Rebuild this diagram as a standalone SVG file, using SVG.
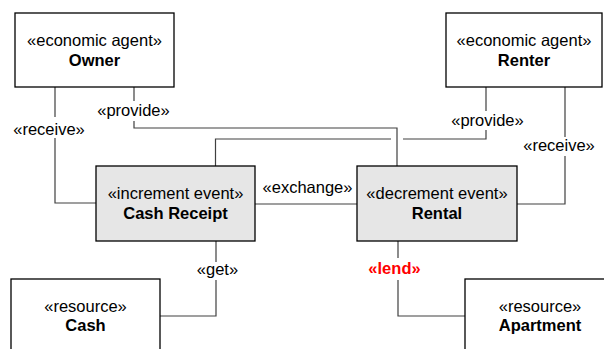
<svg xmlns="http://www.w3.org/2000/svg" width="604" height="349" viewBox="0 0 604 349">
<style>
.box{fill:#ffffff;stroke:#000;stroke-width:1.3}
.ev{fill:#e6e6e6;stroke:#000;stroke-width:1.3}
.t{font-family:"Liberation Sans",Arial,sans-serif;font-size:16.5px;fill:#000;text-anchor:middle}
.b{font-weight:bold}
.lbl{font-family:"Liberation Sans",Arial,sans-serif;font-size:16.5px;fill:#000;text-anchor:middle}
.red{fill:#ff0000;font-weight:bold}
.c{fill:none;stroke:#404040;stroke-width:1.2}
</style>
<rect width="604" height="349" fill="#ffffff"/>
<g id="connectors">
  <path class="c" d="M55,87 V117 M55,138 V203 H96"/>
  <path class="c" d="M134,87 V101 M134,121 V128 H397 V166"/>
  <path class="c" d="M486,87 V111 M486,130 V139 H403 M391,139 H215.5 V166"/>
  <path class="c" d="M565,87 V137 M565,156 V204 H517"/>
  <path class="c" d="M255,204 H357"/>
  <path class="c" d="M216,241 V262 M216,280 V316 H160"/>
  <path class="c" d="M398,241 V258 M398,280 V316 H465"/>
  <text class="lbl" x="49" y="135">«receive»</text>
  <text class="lbl" x="133.5" y="116">«provide»</text>
  <text class="lbl" x="487.5" y="126">«provide»</text>
  <text class="lbl" x="559" y="151">«receive»</text>
  <text class="lbl" x="307.5" y="193">«exchange»</text>
  <text class="lbl" x="217.5" y="275">«get»</text>
  <text class="lbl red" x="394.5" y="274">«lend»</text>
</g>
<g id="owner">
  <rect class="box" x="15" y="13" width="159" height="74"/>
  <text class="t" x="94.5" y="46">«economic agent»</text>
  <text class="t b" x="94.5" y="66">Owner</text>
</g>
<g id="renter">
  <rect class="box" x="446" y="13" width="156" height="74"/>
  <text class="t" x="524" y="46">«economic agent»</text>
  <text class="t b" x="524" y="66">Renter</text>
</g>
<g id="cash-receipt">
  <rect class="ev" x="96" y="166" width="159" height="75"/>
  <text class="t" x="175.5" y="199">«increment event»</text>
  <text class="t b" x="175.5" y="219">Cash Receipt</text>
</g>
<g id="rental">
  <rect class="ev" x="357" y="166" width="160" height="75"/>
  <text class="t" x="437" y="199">«decrement event»</text>
  <text class="t b" x="437" y="219">Rental</text>
</g>
<g id="cash">
  <rect class="box" x="11" y="279" width="149" height="80"/>
  <text class="t" x="85.5" y="312">«resource»</text>
  <text class="t b" x="85.5" y="331">Cash</text>
</g>
<g id="apartment">
  <rect class="box" x="465" y="279" width="150" height="80"/>
  <text class="t" x="540" y="312">«resource»</text>
  <text class="t b" x="540" y="331">Apartment</text>
</g>
</svg>
